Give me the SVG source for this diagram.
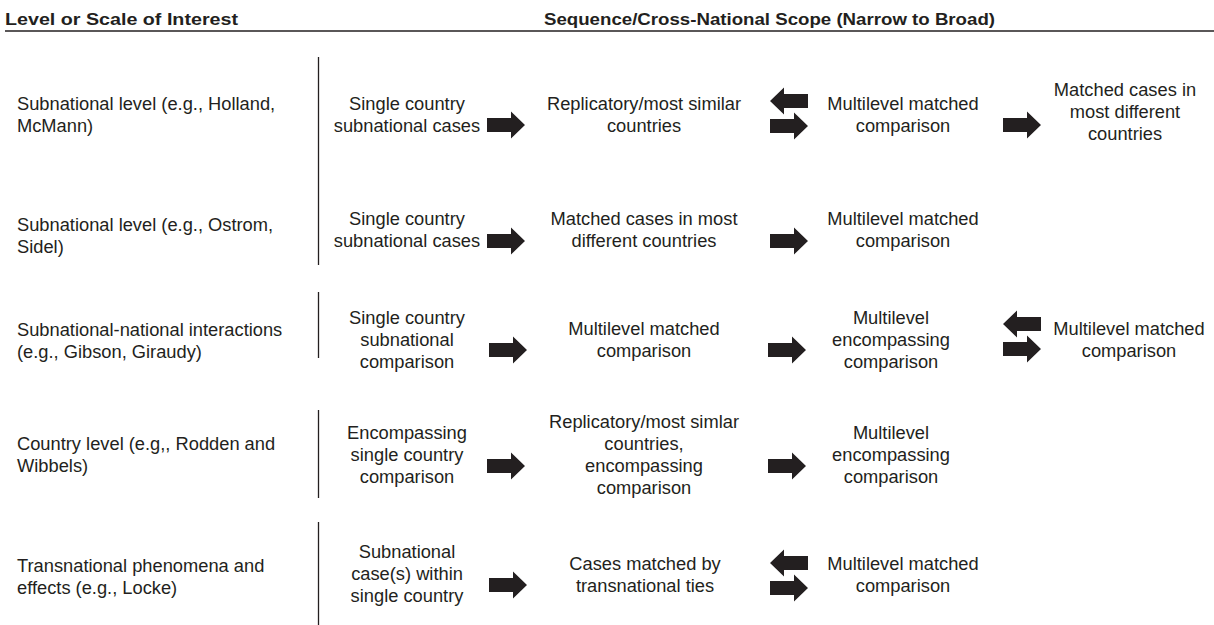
<svg xmlns="http://www.w3.org/2000/svg" width="1214" height="625" viewBox="0 0 1214 625">
<style>
.h{font-family:"Liberation Sans",Arial,sans-serif;font-weight:bold;font-size:17px;fill:#231f20}
.t{font-family:"Liberation Sans",Arial,sans-serif;font-size:18.3px;fill:#231f20}
.c{text-anchor:middle}
.ln{stroke:#231f20;stroke-width:1.3;fill:none}
.ar{fill:#231f20}
</style>
<defs>
<path id="ar" d="M0,-7 H24 V-13.5 L38,0 L24,13.5 V7 H0 Z"/>
</defs>
<rect width="1214" height="625" fill="#fff"/>
<g id="header">
<text class="h" x="5" y="25" textLength="233" lengthAdjust="spacingAndGlyphs">Level or Scale of Interest</text>
<text class="h" x="544" y="25" textLength="451" lengthAdjust="spacingAndGlyphs">Sequence/Cross-National Scope (Narrow to Broad)</text>
<line class="ln" x1="5" y1="31" x2="1214" y2="31" stroke-width="1.5"/>
</g>
<g id="separators">
<line class="ln" x1="318.5" y1="57" x2="318.5" y2="265"/>
<line class="ln" x1="318.5" y1="292" x2="318.5" y2="358"/>
<line class="ln" x1="318.5" y1="410" x2="318.5" y2="498"/>
<line class="ln" x1="318.5" y1="522" x2="318.5" y2="625"/>
</g>
<g id="row1">
<g id="r1-label"><text class="t" x="17" y="110">Subnational level (e.g., Holland,</text><text class="t" x="17" y="132">McMann)</text></g>
<g id="r1-c1"><text class="t c" x="407" y="110">Single country</text><text class="t c" x="407" y="132">subnational cases</text></g>
<g id="r1-c2"><text class="t c" x="644" y="110">Replicatory/most similar</text><text class="t c" x="644" y="132">countries</text></g>
<g id="r1-c3"><text class="t c" x="903" y="110">Multilevel matched</text><text class="t c" x="903" y="132">comparison</text></g>
<g id="r1-c4"><text class="t c" x="1125" y="96">Matched cases in</text><text class="t c" x="1125" y="118">most different</text><text class="t c" x="1125" y="140">countries</text></g>
</g>
<g id="row2">
<g id="r2-label"><text class="t" x="17" y="231">Subnational level (e.g., Ostrom,</text><text class="t" x="17" y="253">Sidel)</text></g>
<g id="r2-c1"><text class="t c" x="407" y="225">Single country</text><text class="t c" x="407" y="247">subnational cases</text></g>
<g id="r2-c2"><text class="t c" x="644" y="225">Matched cases in most</text><text class="t c" x="644" y="247">different countries</text></g>
<g id="r2-c3"><text class="t c" x="903" y="225">Multilevel matched</text><text class="t c" x="903" y="247">comparison</text></g>
</g>
<g id="row3">
<g id="r3-label"><text class="t" x="17" y="336">Subnational-national interactions</text><text class="t" x="17" y="358">(e.g., Gibson, Giraudy)</text></g>
<g id="r3-c1"><text class="t c" x="407" y="324">Single country</text><text class="t c" x="407" y="346">subnational</text><text class="t c" x="407" y="368">comparison</text></g>
<g id="r3-c2"><text class="t c" x="644" y="335">Multilevel matched</text><text class="t c" x="644" y="357">comparison</text></g>
<g id="r3-c3"><text class="t c" x="891" y="324">Multilevel</text><text class="t c" x="891" y="346">encompassing</text><text class="t c" x="891" y="368">comparison</text></g>
<g id="r3-c4"><text class="t c" x="1129" y="335">Multilevel matched</text><text class="t c" x="1129" y="357">comparison</text></g>
</g>
<g id="row4">
<g id="r4-label"><text class="t" x="17" y="450">Country level (e.g,, Rodden and</text><text class="t" x="17" y="472">Wibbels)</text></g>
<g id="r4-c1"><text class="t c" x="407" y="439">Encompassing</text><text class="t c" x="407" y="461">single country</text><text class="t c" x="407" y="483">comparison</text></g>
<g id="r4-c2"><text class="t c" x="644" y="428">Replicatory/most simlar</text><text class="t c" x="644" y="450">countries,</text><text class="t c" x="644" y="472">encompassing</text><text class="t c" x="644" y="494">comparison</text></g>
<g id="r4-c3"><text class="t c" x="891" y="439">Multilevel</text><text class="t c" x="891" y="461">encompassing</text><text class="t c" x="891" y="483">comparison</text></g>
</g>
<g id="row5">
<g id="r5-label"><text class="t" x="17" y="572">Transnational phenomena and</text><text class="t" x="17" y="594">effects (e.g., Locke)</text></g>
<g id="r5-c1"><text class="t c" x="407" y="558">Subnational</text><text class="t c" x="407" y="580">case(s) within</text><text class="t c" x="407" y="602">single country</text></g>
<g id="r5-c2"><text class="t c" x="645" y="570">Cases matched by</text><text class="t c" x="645" y="592">transnational ties</text></g>
<g id="r5-c3"><text class="t c" x="903" y="570">Multilevel matched</text><text class="t c" x="903" y="592">comparison</text></g>
</g>
<g id="connectors" class="ar">
<use href="#ar" transform="translate(487,125)"/>
<use href="#ar" transform="translate(808,101) scale(-1,1)"/>
<use href="#ar" transform="translate(770,126)"/>
<use href="#ar" transform="translate(1003,125)"/>
<use href="#ar" transform="translate(487,241)"/>
<use href="#ar" transform="translate(770,241)"/>
<use href="#ar" transform="translate(489,350)"/>
<use href="#ar" transform="translate(768,350)"/>
<use href="#ar" transform="translate(1041,324) scale(-1,1)"/>
<use href="#ar" transform="translate(1003,349)"/>
<use href="#ar" transform="translate(487,466)"/>
<use href="#ar" transform="translate(768,466)"/>
<use href="#ar" transform="translate(489,585)"/>
<use href="#ar" transform="translate(808,563) scale(-1,1)"/>
<use href="#ar" transform="translate(770,588)"/>
</g>
</svg>
